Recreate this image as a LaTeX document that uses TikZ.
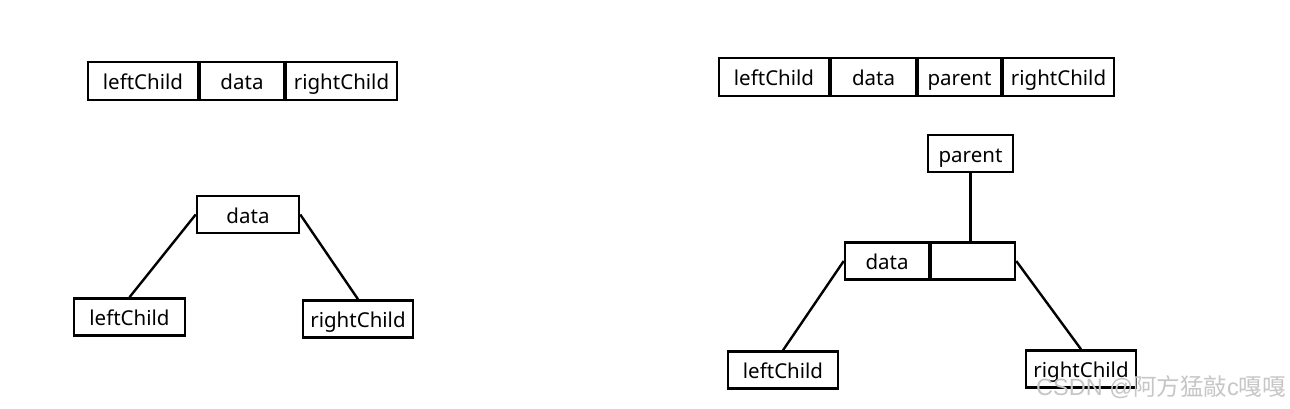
\documentclass[tikz,border=0pt]{standalone}
\usepackage{fontspec}
\setmainfont{Noto Sans}
\newfontfamily\cjkfont{Noto Sans CJK SC}
\begin{document}
\begin{tikzpicture}[x=1pt,y=-1pt,
  txt/.style={font=\fontsize{20.5}{24}\selectfont, text height=18.5pt, text depth=1pt},
  cell/.style={draw=black, line width=2.7pt, inner sep=0pt, minimum height=38pt, txt},
  box/.style={draw=black, line width=2.5pt, inner sep=0pt, minimum height=37pt, txt},
  link/.style={draw=black, line width=2.4pt}]
\useasboundingbox[fill=white] (0,0) rectangle (1290,409);
% top-left record
\node[cell, minimum width=110pt] (a1) at (143,81) {leftChild};
\node[cell, minimum width=84pt] (a2) at (242,81) {data};
\node[cell, minimum width=111pt] (a3) at (341.5,81) {rightChild};
% top-right record
\node[cell, minimum width=110pt] (b1) at (774,77) {leftChild};
\node[cell, minimum width=85pt] (b2) at (873.5,77) {data};
\node[cell, minimum width=83pt] (b3) at (959.5,77) {parent};
\node[cell, minimum width=111pt] (b4) at (1058.5,77) {rightChild};
% left tree
\node[box, minimum width=102pt] (ld) at (248,214.5) {data};
\node[box, minimum width=111pt] (ll) at (129.5,317) {leftChild};
\node[box, minimum width=110pt] (lr) at (358,319) {rightChild};
\draw[link] (ld.west) -- (ll.north);
\draw[link] (ld.east) -- (lr.north);
% right tree
\node[box, minimum width=85pt] (rp) at (970.5,153.5) {parent};
\node[box, minimum width=84pt] (rd) at (887,261) {data};
\node[box, minimum width=84pt] (re) at (973,261) {};
\node[box, minimum width=110pt] (rl) at (783,370) {leftChild};
\node[box, minimum width=110pt] (rr) at (1081,369) {rightChild};
\draw[link] (rp.south) -- (rp.south |- re.north);
\draw[link] (rd.west) -- (rl.north);
\draw[link] (re.east) -- (rr.north);
% watermark
\node[anchor=base west, inner sep=0pt, text=gray!45,
  font=\fontsize{23.5}{26}\selectfont] (wm) at (1036,395)
  {\fontspec{Liberation Sans}CSDN @\cjkfont 阿方猛敲\fontspec{Liberation Sans}c\cjkfont 嘎嘎};
\end{tikzpicture}
\end{document}
